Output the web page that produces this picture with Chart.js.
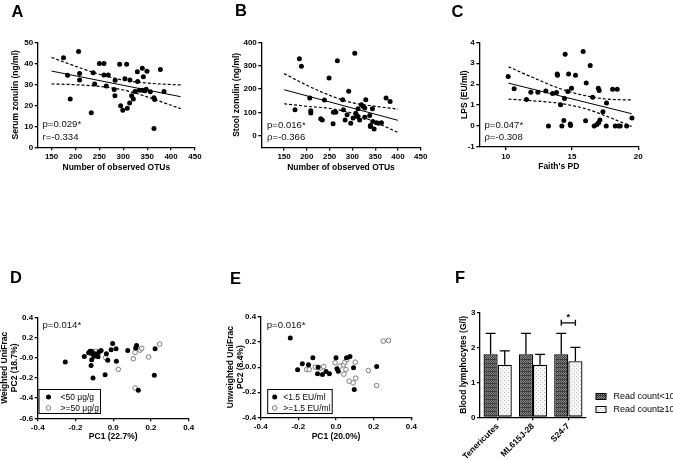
<!DOCTYPE html>
<html>
<head>
<meta charset="utf-8">
<script src="https://cdn.jsdelivr.net/npm/chart.js@4.4.0/dist/chart.umd.min.js"></script>
<style>
  body { margin: 0; background: #fff; }
  #wrap { position: relative; width: 673px; height: 460px; overflow: hidden; }
  canvas { position: absolute; left: 0; top: 0; }
</style>
</head>
<body>
<div id="wrap">
  <canvas id="cA" width="673" height="460"></canvas>
  <canvas id="cB" width="673" height="460"></canvas>
  <canvas id="cC" width="673" height="460"></canvas>
  <canvas id="cD" width="673" height="460"></canvas>
  <canvas id="cE" width="673" height="460"></canvas>
  <canvas id="cF" width="673" height="460"></canvas>
</div>
<script>
// ---- data ----
// A: serum zonulin vs observed OTUs
const serumOTUs = [175,206.5,183.5,189,208.6,208.6,233,237,240,250,259.6,259.6,268.6,264.4,283,281,282.6,292.4,294.5,299,303.5,307,308.4,313.3,314,317.5,321,324.5,329.4,330,333.5,339.8,342,340.5,345.4,349.6,348,356.6,364,365.6,364.2,377.5,385.2];
const serumZonulin = [42.6,45.6,34.3,23,35.2,32.1,16.4,35.5,30.2,39.9,39.9,34.4,34.4,29.2,31.9,27.5,24.5,39.5,19.8,17.6,32.7,39.5,18.6,21.1,32.1,24.5,23,26.6,36,31.3,27.2,37.7,33.6,27.2,26.9,36.2,27.7,26.4,23.6,22.8,9.0,37,26.6];
const serumFitX = [150, 420];
const serumFitY = [36.3, 24.1];
const serumBandX = [150, 200, 250, 300, 350, 400, 420];
const serumBandHi = [42.8, 38.6, 34.8, 32.0, 30.6, 29.9, 29.7];
const serumBandLo = [30.2, 29.8, 29.0, 27.3, 24.0, 20.0, 18.4];
const otuTicks = [150, 200, 250, 300, 350, 400, 450];
const serumTicks = [0, 10, 20, 30, 40, 50];

// B: stool zonulin vs observed OTUs
const stoolOTUs = [183.7,188,174,206.4,208.6,208.6,230.5,234,238.6,248.8,257.6,258.3,263.5,267,278.8,280.3,284,288.4,292,296.4,301.5,305.2,307.4,310,311.8,312.5,316,319.8,323.5,327.2,329.4,327,338,339.6,339.6,344,344.7,347.7,352.8,358,363.8,374,382.8];
const stoolZonulin = [330,297,111,161,107,97,73,67,153,247,51,101,101,321,154,111,67,90,190,53,76,353,96,87,81,116,67,133,126,119,154,79,87,44,39,116,61,29,56,53,56,161,147];
const stoolFitX = [150, 400];
const stoolFitY = [197, 66];
const stoolBandX = [150, 200, 250, 300, 350, 400];
const stoolBandHi = [266, 216, 173, 141, 126, 114];
const stoolBandLo = [137, 126, 117, 96, 58, 14];
const stoolTicks = [0, 100, 200, 300, 400];

// C: LPS vs Faith's PD
const faithPD = [10.18,10.63,11.56,11.89,12.42,13.02,13.22,13.53,13.83,13.88,13.9,14.13,14.23,14.38,14.43,14.48,14.74,14.68,14.86,14.89,14.96,15.26,15.84,16.02,16.07,16.37,16.55,16.67,16.98,17.05,16.88,17.0,17.1,17.33,17.58,17.6,18.06,18.41,18.26,18.51,18.64,19.12,19.52];
const lpsLevel = [2.37,1.78,1.27,1.62,1.62,1.67,0,1.56,1.6,2.49,2.43,1.02,0,0.27,1.32,3.43,2.49,1.65,0.1,0.03,1.81,2.43,3.56,0.25,2.06,2.89,1.38,0,1.81,1.7,0.08,0.16,0.29,0.68,0,1.1,1.76,1.76,0,0,0,0,0.38];
const lpsFitX = [10.2, 19.5];
const lpsFitY = [2.05, 0.59];
const lpsBandX = [10.2, 12, 14, 16, 18, 19.5];
const lpsBandHi = [2.83, 2.33, 1.81, 1.45, 1.27, 1.25];
const lpsBandLo = [1.29, 1.21, 1.09, 0.83, 0.37, -0.02];
const faithTicks = [10, 15, 20];
const lpsTicks = [-1, 0, 1, 2, 3, 4];

// D: weighted UniFrac PCoA
const wPC1Low = [-0.254,-0.153,-0.123,-0.114,-0.118,-0.105,-0.096,-0.114,-0.117,-0.107,-0.085,-0.075,-0.064,-0.043,-0.036,-0.029,-0.011,-0.003,0.015,0.017,0.077,0.119,0.124,0.133,0.222,0.218,-0.13,-0.08,-0.1];
const wPC2Low = [-0.043,0.013,0.063,0.063,0.043,0.03,0.04,-0.02,-0.076,-0.2,0.03,0.056,0.072,-0.168,0.04,-0.026,0.079,0.141,0.089,-0.036,0.072,0.095,0.122,-0.322,0.089,-0.174,0.05,0.01,0.015];
const wPC1High = [-0.091,-0.04,0.027,0.107,0.116,0.142,0.151,0.188,0.246,0.116];
const wPC2High = [0.063,0.0,-0.115,-0.01,0.053,0.075,0.093,0.007,0.135,-0.3];
const pcTicks = [-0.4, -0.2, 0, 0.2, 0.4];
const pcLabels = ['-0.4', '-0.2', '0.0', '0.2', '0.4'];
const wTicks = [-0.6, -0.4, -0.2, 0, 0.2, 0.4];
const wLabels = ['-0.6', '-0.4', '-0.2', '-0.0', '0.2', '0.4'];

// E: unweighted UniFrac PCoA
const uPC1Low = [-0.243,-0.204,-0.179,-0.146,-0.123,-0.095,-0.098,-0.072,-0.053,-0.035,0.0,0.005,0.012,0.056,0.074,0.093,0.097,0.216];
const uPC2Low = [0.232,-0.021,0.027,0.019,0.075,0.0,-0.053,-0.059,-0.035,-0.053,0.075,-0.013,-0.032,0.075,0.085,-0.005,-0.179,0.005];
const uPC1High = [-0.156,-0.142,-0.11,-0.083,-0.065,-0.005,0.021,0.04,0.047,0.058,0.042,0.053,0.07,0.091,0.105,0.102,0.172,0.216,0.251,0.279];
const uPC2High = [-0.019,-0.019,0.0,-0.008,0.005,0.035,0.008,0.019,0.04,0.061,-0.056,-0.019,-0.112,-0.125,-0.088,0.04,-0.027,-0.147,0.208,0.213];
const uTicks = [-0.4, -0.2, 0, 0.2, 0.4];
const uLabels = ['-0.4', '-0.2', '0.0', '0.2', '0.4'];

// F: blood lymphocytes by read count
const taxa = ['Tenericutes', 'ML615J-28', 'S24-7'];
const lymphLowMean = [1.8, 1.8, 1.8];
const lymphLowSD = [0.6, 0.6, 0.6];
const lymphHighMean = [1.5, 1.5, 1.6];
const lymphHighSD = [0.4, 0.3, 0.4];
const lymphTicks = [0, 1, 2, 3];
const sigLevel = 2.7;

// ---- setup ----
const W = 673, H = 460;
const FONT = '"Liberation Sans", Arial, sans-serif';
const TSIZE = 8.5, TLH = 1.15, HALF = TSIZE * TLH / 2;
const TICKSIZE = 8;
Chart.defaults.font.family = FONT;
Chart.defaults.color = '#000';

function pts(xs, ys) { return xs.map((x, i) => ({ x: x, y: ys[i] })); }

// layout padding + fixed axis box sizes put the plot area where the reference has it
function frame(area, yTitleX, xTitleY) {
  const left = yTitleX - HALF;
  const bottom = xTitleY == null ? H : xTitleY + HALF;
  return {
    padding: { left: left, top: area.t, right: W - area.r, bottom: H - bottom },
    yW: area.l - left,
    xH: bottom - area.b
  };
}

function axis(dir, min, max, ticks, labels, title, size) {
  return {
    type: 'linear', position: dir === 'x' ? 'bottom' : 'left', min: min, max: max,
    afterBuildTicks: s => { s.ticks = ticks.map(v => ({ value: v })); },
    afterFit: s => { if (dir === 'x') s.height = size; else s.width = size; },
    ticks: { autoSkip: false, padding: 1.5, color: '#000', font: { size: TICKSIZE, weight: 'bold' },
             callback: (v, i) => labels ? labels[i] : String(v) },
    grid: { drawOnChartArea: false, tickLength: 3, color: '#000', lineWidth: 1.3 },
    border: { color: '#000', width: 1.3 },
    title: { display: !!title, text: title, color: '#000', padding: 0,
             font: { size: TSIZE, weight: 'bold', lineHeight: TLH } }
  };
}

const filled = data => ({ data: data, pointRadius: 2.5, backgroundColor: '#000', borderColor: '#000', borderWidth: 0 });
const hollow = data => ({ data: data, pointRadius: 2.3, backgroundColor: '#fff', borderColor: '#7a7a7a', borderWidth: 1 });
const line = (data, dashed) => ({ data: data, showLine: true, pointRadius: 0, borderColor: '#000',
  borderWidth: dashed ? 1.2 : 1, borderDash: dashed ? [3, 2] : [], cubicInterpolationMode: 'monotone' });

function notes(items) {
  return {
    id: 'notes',
    afterDraw(chart) {
      const ctx = chart.ctx;
      items.forEach(n => {
        ctx.save();
        ctx.font = n.font;
        ctx.fillStyle = n.color || '#000';
        ctx.textAlign = n.align || 'left';
        ctx.fillText(n.text, n.x, n.y);
        ctx.restore();
      });
    }
  };
}

function boxLegend(box, rows) {
  return {
    id: 'boxLegend',
    afterDraw(chart) {
      const ctx = chart.ctx;
      ctx.save();
      ctx.strokeStyle = '#000'; ctx.lineWidth = 1;
      ctx.strokeRect(box.x, box.y, box.w, box.h);
      ctx.font = '8.5px ' + FONT;
      ctx.textBaseline = 'middle';
      rows.forEach((r, i) => {
        const ds = chart.data.datasets[r.ds];
        const cy = box.y + box.pad + i * box.step;
        ctx.beginPath();
        ctx.arc(box.x + box.mx, cy, ds.pointRadius, 0, Math.PI * 2);
        ctx.fillStyle = ds.backgroundColor; ctx.fill();
        if (ds.borderWidth) { ctx.lineWidth = ds.borderWidth; ctx.strokeStyle = ds.borderColor; ctx.stroke(); }
        ctx.fillStyle = '#000';
        ctx.fillText(r.text, box.x + box.tx, cy + 0.5);
      });
      ctx.restore();
    }
  };
}

const noteFont = '9.6px ' + FONT;
const letterFont = 'bold 16.5px ' + FONT;

function scatterPanel(id, area, yTitleX, xTitleY, xs, ys, datasets, plugins) {
  const f = frame(area, yTitleX, xTitleY);
  return new Chart(id, {
    type: 'scatter',
    data: { datasets: datasets },
    options: {
      responsive: false, animation: false, events: [],
      layout: { padding: f.padding },
      scales: {
        x: axis('x', xs.min, xs.max, xs.ticks, xs.labels, xs.title, f.xH),
        y: axis('y', ys.min, ys.max, ys.ticks, ys.labels, ys.title, f.yW)
      },
      plugins: { legend: { display: false }, tooltip: { enabled: false } }
    },
    plugins: plugins
  });
}

// A
scatterPanel('cA', { l: 37.7, t: 42.3, r: 195, b: 147.3 }, 15.8, 167.3,
  { min: 121, max: 450, ticks: otuTicks, title: 'Number of observed OTUs' },
  { min: 0, max: 50, ticks: serumTicks, title: 'Serum zonulin (ng/ml)' },
  [filled(pts(serumOTUs, serumZonulin)),
   line(pts(serumFitX, serumFitY), false),
   line(pts(serumBandX, serumBandHi), true),
   line(pts(serumBandX, serumBandLo), true)],
  [notes([
    { text: 'A', x: 11.5, y: 16.7, font: letterFont },
    { text: 'p=0.029*', x: 42.5, y: 127, font: noteFont, color: '#111' },
    { text: 'r=-0.334', x: 42.5, y: 139.5, font: noteFont, color: '#111' }
  ])]);

// B
scatterPanel('cB', { l: 261.3, t: 42.3, r: 420.7, b: 147.4 }, 237, 167.3,
  { min: 100, max: 450, ticks: otuTicks, title: 'Number of observed OTUs' },
  { min: -50, max: 400, ticks: stoolTicks, title: 'Stool zonulin (ng/ml)' },
  [filled(pts(stoolOTUs, stoolZonulin)),
   line(pts(stoolFitX, stoolFitY), false),
   line(pts(stoolBandX, stoolBandHi), true),
   line(pts(stoolBandX, stoolBandLo), true)],
  [notes([
    { text: 'B', x: 235, y: 16.3, font: letterFont },
    { text: 'p=0.016*', x: 267, y: 128, font: noteFont, color: '#111' },
    { text: 'ρ=-0.366', x: 267, y: 140, font: noteFont, color: '#111' }
  ])]);

// C
scatterPanel('cC', { l: 479.3, t: 42.3, r: 638.3, b: 147 }, 465, 166.7,
  { min: 8, max: 20, ticks: faithTicks, title: "Faith's PD" },
  { min: -1, max: 4, ticks: lpsTicks, title: 'LPS (EU/ml)' },
  [filled(pts(faithPD, lpsLevel)),
   line(pts(lpsFitX, lpsFitY), false),
   line(pts(lpsBandX, lpsBandHi), true),
   line(pts(lpsBandX, lpsBandLo), true)],
  [notes([
    { text: 'C', x: 451.5, y: 16.7, font: letterFont },
    { text: 'p=0.047*', x: 484.5, y: 127.5, font: noteFont, color: '#111' },
    { text: 'ρ=-0.308', x: 484.5, y: 139.5, font: noteFont, color: '#111' }
  ])]);

// D
scatterPanel('cD', { l: 37.7, t: 317.3, r: 188.7, b: 418.3 }, 5, 436.7,
  { min: -0.4, max: 0.4, ticks: pcTicks, labels: pcLabels, title: 'PC1 (22.7%)' },
  { min: -0.6, max: 0.4, ticks: wTicks, labels: wLabels, title: ['Weighted UniFrac', 'PC2 (18.7%)'] },
  [filled(pts(wPC1Low, wPC2Low)), hollow(pts(wPC1High, wPC2High))],
  [notes([
    { text: 'D', x: 10, y: 283.3, font: letterFont },
    { text: 'p=0.014*', x: 42.5, y: 327.5, font: noteFont, color: '#111' }
  ]),
   boxLegend({ x: 39, y: 389.5, w: 61.5, h: 24, pad: 7.5, step: 11, mx: 9.5, tx: 21.5 },
     [{ ds: 0, text: '<50 μg/g' }, { ds: 1, text: '>=50 μg/g' }])]);

// E
scatterPanel('cE', { l: 260.7, t: 317, r: 411.3, b: 417.3 }, 231, 436.7,
  { min: -0.4, max: 0.4, ticks: pcTicks, labels: pcLabels, title: 'PC1 (20.0%)' },
  { min: -0.4, max: 0.4, ticks: uTicks, labels: uLabels, title: ['Unweighted UniFrac', 'PC2 (8.4%)'] },
  [filled(pts(uPC1Low, uPC2Low)), hollow(pts(uPC1High, uPC2High))],
  [notes([
    { text: 'E', x: 230, y: 284, font: letterFont },
    { text: 'p=0.016*', x: 266.7, y: 328, font: noteFont, color: '#111' }
  ]),
   boxLegend({ x: 267.7, y: 389.5, w: 64.5, h: 24, pad: 7.5, step: 11, mx: 7, tx: 15.6 },
     [{ ds: 0, text: '<1.5 EU/ml' }, { ds: 1, text: '>=1.5 EU/ml' }])]);

// F
function pattern(base, dot, cells) {
  const c = document.createElement('canvas');
  c.width = 4; c.height = 4;
  const g = c.getContext('2d');
  g.fillStyle = base; g.fillRect(0, 0, 4, 4);
  g.fillStyle = dot;
  cells.forEach(p => g.fillRect(p[0], p[1], 1, 1));
  return g.createPattern(c, 'repeat');
}
const darkFill = pattern('#8c8c8c', '#3c3c3c', [[0,0],[2,0],[1,1],[3,1],[0,2],[2,2],[1,3],[3,3],[0,3],[2,3]]);
const lightFill = pattern('#f8f8f8', '#b4b4b4', [[0,0],[2,2]]);

const barExtras = {
  id: 'barExtras',
  afterDatasetsDraw(chart) {
    const ctx = chart.ctx, y = chart.scales.y;
    ctx.save();
    ctx.strokeStyle = '#000'; ctx.lineWidth = 1.3;
    chart.data.datasets.forEach((ds, di) => {
      chart.getDatasetMeta(di).data.forEach((bar, i) => {
        const top = y.getPixelForValue(ds.data[i] + ds.sd[i]);
        ctx.beginPath();
        ctx.moveTo(bar.x, bar.y); ctx.lineTo(bar.x, top);
        ctx.moveTo(bar.x - 5, top); ctx.lineTo(bar.x + 5, top);
        ctx.stroke();
      });
    });
    // significance bracket over the last group
    const a = chart.getDatasetMeta(0).data[2], b = chart.getDatasetMeta(1).data[2];
    const sy = y.getPixelForValue(sigLevel);
    ctx.beginPath();
    ctx.moveTo(a.x, sy - 3); ctx.lineTo(a.x, sy + 3);
    ctx.moveTo(a.x, sy); ctx.lineTo(b.x, sy);
    ctx.moveTo(b.x, sy - 3); ctx.lineTo(b.x, sy + 3);
    ctx.stroke();
    ctx.fillStyle = '#000';
    ctx.font = 'bold 9px ' + FONT;
    ctx.textAlign = 'center';
    ctx.fillText('*', (a.x + b.x) / 2, sy - 3);
    // legend
    ctx.font = '9px ' + FONT;
    ctx.textAlign = 'left';
    ctx.textBaseline = 'middle';
    ctx.lineWidth = 1;
    chart.data.datasets.forEach((ds, di) => {
      const cy = 396.5 + di * 13;
      ctx.fillStyle = ds.backgroundColor;
      ctx.fillRect(596, cy - 3, 10, 6);
      ctx.strokeRect(596, cy - 3, 10, 6);
      ctx.fillStyle = '#000';
      ctx.fillText(ds.label, 613.5, cy + 0.5);
    });
    ctx.restore();
  }
};

const fF = frame({ l: 480, t: 312.3, r: 586, b: 417.3 }, 463.3, null);
new Chart('cF', {
  type: 'bar',
  data: {
    labels: taxa,
    datasets: [
      { label: 'Read count<10', data: lymphLowMean, sd: lymphLowSD, backgroundColor: darkFill,
        borderColor: '#000', borderWidth: 1.3, borderSkipped: false, categoryPercentage: 0.8, barPercentage: 1 },
      { label: 'Read count≥10', data: lymphHighMean, sd: lymphHighSD, backgroundColor: lightFill,
        borderColor: '#000', borderWidth: 1.3, borderSkipped: false, categoryPercentage: 0.8, barPercentage: 1 }
    ]
  },
  options: {
    responsive: false, animation: false, events: [],
    layout: { padding: fF.padding },
    scales: {
      x: {
        type: 'category', offset: true,
        afterFit: s => { s.height = fF.xH; },
        ticks: { autoSkip: false, minRotation: 45, maxRotation: 45, padding: 1, color: '#000',
                 font: { size: 8.5, weight: 'bold' } },
        grid: { offset: false, drawOnChartArea: false, tickLength: 3, color: '#000', lineWidth: 1.3 },
        border: { color: '#000', width: 1.3 }
      },
      y: axis('y', 0, 3, lymphTicks, null, 'Blood lymphocytes (G/l)', fF.yW)
    },
    plugins: { legend: { display: false }, tooltip: { enabled: false } }
  },
  plugins: [barExtras, notes([{ text: 'F', x: 455, y: 283.3, font: letterFont }])]
});
</script>
</body>
</html>
